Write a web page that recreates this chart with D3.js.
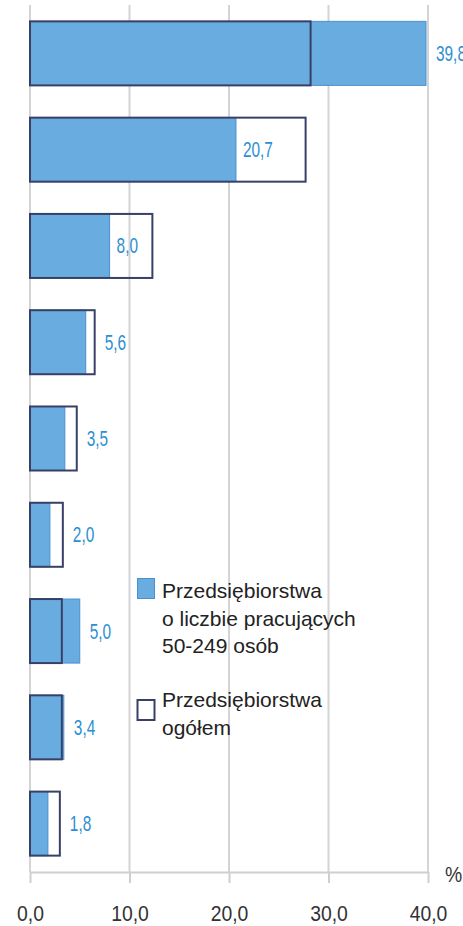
<!DOCTYPE html>
<html>
<head>
<meta charset="utf-8">
<script src="https://cdn.jsdelivr.net/npm/d3@7"></script>
<style>
  body { margin: 0; background: #fff; }
</style>
</head>
<body>
<div id="chart"></div>
<script>
// categories (no labels are shown on the picture, so plain ids)
var categories = ["1", "2", "3", "4", "5", "6", "7", "8", "9"];
// Przedsiebiorstwa o liczbie pracujacych 50-249 osob (blue bars, labelled)
var mediumValues = [39.8, 20.7, 8.0, 5.6, 3.5, 2.0, 5.0, 3.4, 1.8];
// Przedsiebiorstwa ogolem (outline bars)
var totalValues = [28.2, 27.7, 12.3, 6.5, 4.7, 3.3, 3.2, 3.2, 3.0];
var xTicks = [0, 10, 20, 30, 40];
var legendLabels = [
  ["Przedsiębiorstwa", "o liczbie pracujących", "50-249 osób"],
  ["Przedsiębiorstwa", "ogółem"]
];

var W = 463, H = 926;
var margin = {top: 5, right: 35, bottom: 54, left: 30};
var font = "'Liberation Sans', Arial, sans-serif";

var svg = d3.select("#chart")
  .append("svg")
    .attr("width", W)
    .attr("height", H);

var x = d3.scaleLinear()
  .domain([0, 40])
  .range([margin.left, W - margin.right]);

var y = d3.scaleBand()
  .domain(categories)
  .range([margin.top, H - margin.bottom])
  .paddingInner(0.335)
  .paddingOuter(0.17);

var axisY = H - margin.bottom;
var fmt = function(v) { return d3.format(".1f")(v).replace(".", ","); };

// gridlines
svg.append("g")
  .selectAll("line")
  .data(xTicks)
  .enter()
  .append("line")
    .attr("x1", d => x(d))
    .attr("x2", d => x(d))
    .attr("y1", margin.top)
    .attr("y2", axisY)
    .style("stroke", "#d4d4d4")
    .style("stroke-width", 2);

// x axis
var xAxis = svg.append("g")
  .attr("transform", "translate(0," + axisY + ")")
  .call(d3.axisBottom(x)
    .tickValues(xTicks)
    .tickSize(11)
    .tickSizeOuter(0)
    .tickPadding(22)
    .tickFormat(fmt));
xAxis.select(".domain").style("stroke", "#cfcfcf").style("stroke-width", 2);
xAxis.selectAll(".tick line").style("stroke", "#cfcfcf").style("stroke-width", 2);
xAxis.selectAll(".tick text")
  .attr("transform", "scale(0.88,1)")
  .style("font-family", font)
  .style("font-size", "22px")
  .style("fill", "#333");

svg.append("text")
  .attr("transform", "translate(445," + (axisY + 10) + ") scale(0.88,1)")
  .style("font-family", font)
  .style("font-size", "22px")
  .style("fill", "#333")
  .text("%");

var rows = categories.map(function(c, i) {
  return {cat: c, medium: mediumValues[i], total: totalValues[i]};
});

// blue bars
svg.append("g")
  .selectAll("rect")
  .data(rows)
  .enter()
  .append("rect")
    .attr("x", x(0))
    .attr("y", d => y(d.cat))
    .attr("width", d => x(d.medium) - x(0))
    .attr("height", y.bandwidth())
    .style("fill", "#69acdf")
    .style("stroke", "#4a8fd0")
    .style("stroke-width", 1);

// outline bars (no fill, drawn on top)
svg.append("g")
  .selectAll("rect")
  .data(rows)
  .enter()
  .append("rect")
    .attr("x", x(0))
    .attr("y", d => y(d.cat))
    .attr("width", d => x(d.total) - x(0))
    .attr("height", y.bandwidth())
    .style("fill", "none")
    .style("stroke", "#394068")
    .style("stroke-width", 2);

// value labels (narrow look of the original)
svg.append("g")
  .selectAll("text")
  .data(rows)
  .enter()
  .append("text")
    .attr("transform", function(d) {
      var lx = (d.total - d.medium > 4) ? x(d.medium) + 7 : x(Math.max(d.medium, d.total)) + 10;
      var ly = y(d.cat) + y.bandwidth() / 2;
      return "translate(" + lx + "," + ly + ") scale(0.7,1)";
    })
    .attr("dy", "0.34em")
    .style("font-family", font)
    .style("font-size", "22px")
    .style("fill", "#2d8fd2")
    .text(d => fmt(d.medium));

// legend
var legend = svg.append("g")
  .attr("font-family", font)
  .attr("font-size", "21px")
  .attr("fill", "#222");

legend.append("rect")
  .attr("x", 137.5).attr("y", 578.5)
  .attr("width", 17).attr("height", 20)
  .style("fill", "#69acdf")
  .style("stroke", "#4a8fd0")
  .style("stroke-width", 1);

legend.append("rect")
  .attr("x", 137.5).attr("y", 700)
  .attr("width", 17).attr("height", 20)
  .style("fill", "#fff")
  .style("stroke", "#394068")
  .style("stroke-width", 2);

var legendTop = [598, 707];
legendLabels.forEach(function(lines, k) {
  var t = legend.append("text")
    .attr("x", 162)
    .attr("y", legendTop[k]);
  lines.forEach(function(line, j) {
    t.append("tspan")
      .attr("x", 162)
      .attr("dy", j === 0 ? 0 : 27.5)
      .text(line);
  });
});
</script>
</body>
</html>
